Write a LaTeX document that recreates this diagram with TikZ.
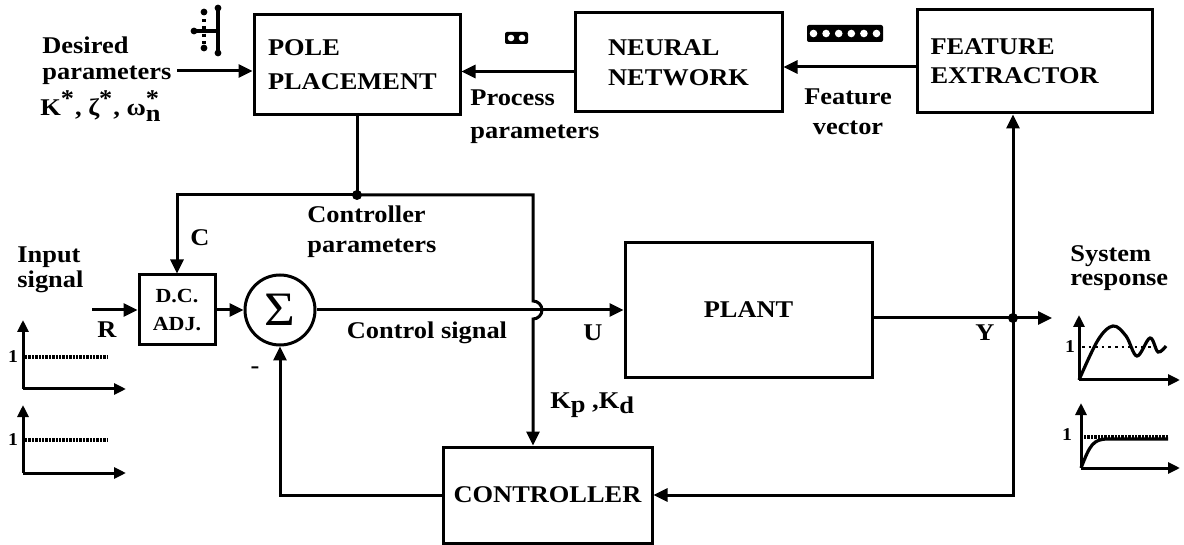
\documentclass[tikz,border=0pt]{standalone}
\usepackage{fontspec}
\setmainfont{Liberation Serif}[FakeStretch=1.1]
\usetikzlibrary{arrows.meta}

\begin{document}
\begin{tikzpicture}[
  x=0.5pt, y=-0.5pt,
  font=\fontsize{12}{15}\selectfont\bfseries,
  block/.style={draw, rectangle, line width=1.5pt, inner sep=0pt, align=left},
  lbl/.style={inner sep=0pt, align=left},
  small/.style={inner sep=0pt, font=\fontsize{9}{9}\selectfont\bfseries},
  arrow/.style={-{Triangle[length=7pt,width=6.5pt]}, line width=1.5pt},
  wire/.style={line width=1.5pt},
  jdot/.style={circle, fill, inner sep=0pt, minimum size=5pt},
  axis/.style={-{Triangle[length=6pt,width=5.5pt]}, line width=1.5pt},
  level/.style={line width=2.2pt, dash pattern=on 1.2pt off 0.5pt}
]
\useasboundingbox (0,0) rectangle (1184,545);

% blocks
\node[block, minimum width=103pt, minimum height=50pt, text width=89pt] (pole) at (357,65) {POLE\\[2pt]PLACEMENT};
\node[block, minimum width=103.5pt, minimum height=49.5pt] (nn) at (678.5,62.5) {NEURAL\\NETWORK};
\node[block, minimum width=117.5pt, minimum height=51.5pt, text width=104pt] (fe) at (1034.5,61.5) {FEATURE\\[-0.5pt]EXTRACTOR};
\node[block, minimum width=38pt, minimum height=35pt, align=center, font=\fontsize{10}{14}\selectfont\bfseries] (dc) at (177,310) {D.C.\\ADJ.};
\node[draw, circle, line width=1.5pt, minimum size=35pt, inner sep=0pt, font=\fontsize{24}{24}\selectfont] (sum) at (280,310) {Σ};
\node[block, minimum width=123.5pt, minimum height=67.5pt] (plant) at (748.5,310) {PLANT};
\node[block, minimum width=104.5pt, minimum height=48pt] (ctrl) at (547.5,495) {CONTROLLER};

% labels
\node[lbl, anchor=west, font=\fontsize{12}{13}\selectfont\bfseries] (desired) at (42,61) {Desired\\parameters};
\node[lbl, anchor=west] (kstar) at (40,106) {K$^{\mbox{*}}$, ζ$^{\mbox{*}}$, ω$_{\mbox{n}}^{\mbox{*}}$};
\node[lbl, anchor=west, font=\fontsize{12}{16.5}\selectfont\bfseries] (procpar) at (470,117) {Process\\parameters};
\node[lbl, align=center, font=\fontsize{12}{15}\selectfont\bfseries] (featvec) at (848,112) {Feature\\vector};
\node[lbl, anchor=west, font=\fontsize{12}{15}\selectfont\bfseries] (ctrlpar) at (307,232) {Controller\\parameters};
\node[lbl, anchor=west, font=\fontsize{12}{12.5}\selectfont\bfseries] (input) at (17,270) {Input\\signal};
\node[lbl, anchor=west, font=\fontsize{12}{12}\selectfont\bfseries] (sysresp) at (1070,268) {System\\response};
\node[lbl] (rlbl) at (107,330) {R};
\node[lbl] (clbl) at (200,238) {C};
\node[lbl] (minus) at (255,370) {-};
\node[lbl] (ctrlsig) at (427,333) {Control signal};
\node[lbl] (ulbl) at (593,333) {U};
\node[lbl, anchor=west] (kpkd) at (550,405) {K\raisebox{-0.4ex}{p} ,K\raisebox{-0.5ex}{d}};
\node[lbl] (ylbl) at (985,333) {Y};

% free ends and corners
\coordinate (dsrc) at (177,71);
\coordinate (rsrc) at (92,310);
\coordinate (cpj) at (357,195);
\coordinate (cpr) at (533,195);
\coordinate (yj) at (1013,318);
\coordinate (yout) at (1052,318);

% connectors
\draw[arrow] (dsrc) -- (dsrc -| pole.west);
\draw[arrow] ([yshift=-4.5pt]nn.west) -- ([yshift=-4.5pt]nn.west -| pole.east);
\draw[arrow] ([yshift=-2.75pt]fe.west) -- ([yshift=-2.75pt]fe.west -| nn.east);
\draw[wire] (pole.south) -- (cpj);
\draw[arrow] (cpj) -| (dc.north);
\draw[arrow] (cpj) -- (cpr) -- ([yshift=4.5pt]cpr |- sum.east)
  arc[start angle=90, end angle=-90, radius=4.5pt] -- (cpr |- ctrl.north);
\draw[arrow] (rsrc) -- (dc.west);
\draw[arrow] (dc.east) -- (sum.west);
\draw[arrow] (sum.east) -- (plant.west);
\draw[wire] (plant.east |- yj) -- (yj);
\draw[arrow] (yj) -- (yout);
\draw[arrow] (yj) -- (yj |- fe.south);
\draw[arrow] (yj) -- (yj |- ctrl.east) -- (ctrl.east);
\draw[arrow] (ctrl.west) -| (sum.south);
\node[jdot] (jpole) at (cpj) {};
\node[jdot] (jout) at (yj) {};

% parameter vector icons
\draw[line width=1.6pt] (218,8) -- (218,53);
\draw[line width=1.6pt] (194,31) -- (218,31);
\draw[line width=1.6pt, dotted] (204,12) -- (204,50);
\foreach \p in {(218,8),(218,53),(194,31),(204,12),(204,48)}
  \fill \p circle (3.4);
\fill[rounded corners=1pt] (505,32) rectangle (528,44);
\foreach \k in {0,1} \fill[white] ({511+11*\k},38) circle (3.3);
\fill[rounded corners=1pt] (807,25) rectangle (883,42);
\foreach \k in {0,...,5} \fill[white] ({813.5+12.6*\k},33.5) circle (3.8);

% input signal plots
\draw[axis] (23,389) -- (23,320);
\draw[axis] (23,389) -- (126,389);
\draw[level] (25,357) -- (108,357);
\node[small] (inone) at (13,357) {1};
\draw[axis] (23,473) -- (23,405);
\draw[axis] (23,473) -- (126,473);
\draw[level] (25,440) -- (108,440);
\node[small] (intwo) at (13,440) {1};

% system response plots
\draw[axis] (1079,380) -- (1079,315);
\draw[axis] (1079,380) -- (1180,380);
\draw[dotted, line width=1.3pt] (1082,347) -- (1160,347);
\draw[line width=1.6pt] plot[smooth, tension=0.6] coordinates {(1079,380) (1098,340) (1113,326) (1126,336) (1137,356) (1150,338) (1158,352) (1166,346)};
\node[small] (outone) at (1070,347) {1};
\draw[axis] (1081,468) -- (1081,403);
\draw[axis] (1081,468) -- (1180,468);
\draw[level] (1084,437) -- (1168,437);
\draw[line width=1.6pt] (1081,468) .. controls (1090,445) and (1093,439) .. (1108,439) -- (1168,439);
\node[small] (outtwo) at (1067,435) {1};
\end{tikzpicture}
\end{document}
